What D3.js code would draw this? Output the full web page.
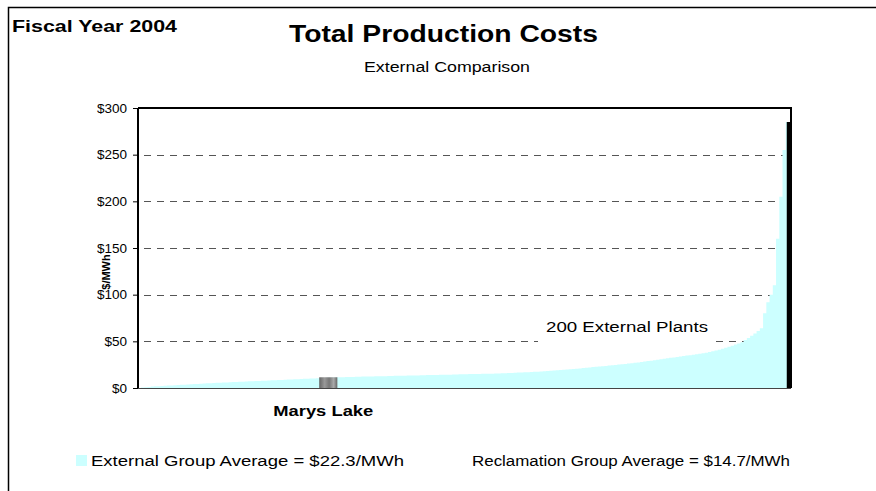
<!DOCTYPE html>
<html>
<head>
<meta charset="utf-8">
<script src="https://cdn.jsdelivr.net/npm/d3@7"></script>
<style>
  body { margin: 0; background: #fff; }
  svg { display: block; font-family: "Liberation Sans", Arial, sans-serif; }
</style>
</head>
<body>
<div id="chart"></div>
<script>
// production cost of the 200 external plants, $/MWh, sorted low to high
const externalCosts = [
  0.5, 0.9, 1.2, 1.5, 1.8, 2.0, 2.2, 2.4, 2.6, 2.8,
  3.0, 3.2, 3.4, 3.6, 3.8, 4.0, 4.2, 4.4, 4.6, 4.8,
  5.0, 5.2, 5.3, 5.5, 5.6, 5.8, 6.0, 6.1, 6.3, 6.4,
  6.6, 6.8, 6.9, 7.1, 7.2, 7.4, 7.6, 7.7, 7.9, 8.0,
  8.2, 8.4, 8.5, 8.7, 8.8, 9.0, 9.2, 9.3, 9.5, 9.6,
  9.8, 10.0, 10.1, 10.3, 10.4, 10.6, 10.8, 10.9, 11.1, 11.2,
  11.4, 11.5, 11.6, 11.7, 11.8, 11.9, 12.0, 12.1, 12.2, 12.2,
  12.3, 12.4, 12.5, 12.6, 12.6, 12.7, 12.8, 12.9, 13.0, 13.0,
  13.1, 13.2, 13.3, 13.4, 13.4, 13.5, 13.6, 13.7, 13.8, 13.8,
  13.9, 14.0, 14.1, 14.2, 14.2, 14.3, 14.4, 14.5, 14.6, 14.7,
  14.8, 14.9, 15.0, 15.0, 15.1, 15.2, 15.3, 15.4, 15.4, 15.5,
  15.6, 15.7, 15.9, 16.0, 16.2, 16.3, 16.5, 16.6, 16.8, 16.9,
  17.1, 17.3, 17.5, 17.8, 18.0, 18.2, 18.4, 18.7, 19.0, 19.2,
  19.5, 19.8, 20.1, 20.4, 20.7, 21.0, 21.3, 21.7, 22.0, 22.4,
  22.7, 23.0, 23.3, 23.6, 24.0, 24.3, 24.7, 25.1, 25.4, 25.8,
  26.2, 26.6, 27.0, 27.4, 27.9, 28.3, 28.8, 29.3, 29.8, 30.3,
  30.8, 31.3, 31.8, 32.3, 32.8, 33.3, 33.8, 34.2, 34.7, 35.1,
  35.6, 36.1, 36.7, 37.3, 37.9, 38.5, 39.3, 40.1, 41.0, 42.0,
  43.0, 44.1, 45.3, 46.5, 47.7, 49.0, 51.5, 53.5, 56.0, 58.5,
  61.0, 64.0, 80.0, 92.0, 100.0, 110.0, 160.0, 205.0, 255.0, 285.0
];

// the Reclamation plant shown against the external group
const reclamationPlants = ['Marys Lake'];
const reclamationRanks = [55];
const reclamationCosts = [11.5];

const yTicks = [0, 50, 100, 150, 200, 250, 300];
const legendLabels = [
  'External Group Average = $22.3/MWh',
  'Reclamation Group Average = $14.7/MWh'
];

const width = 876;
const height = 491;
const plot = { left: 138, right: 791, top: 108, bottom: 388 };

const svg = d3.select('#chart')
  .append('svg')
  .attr('width', width)
  .attr('height', height);

// the source picture is stretched sideways, so texts get a fixed run length
function fitText(sel, len) {
  return sel.attr('textLength', len).attr('lengthAdjust', 'spacingAndGlyphs');
}

// outer frame (only top and left edges fall inside the picture)
svg.append('path')
  .attr('d', 'M8.5,' + height + 'V7.5H' + width)
  .attr('fill', 'none')
  .attr('stroke', '#000')
  .attr('stroke-width', 1.5);

const x = d3.scaleLinear()
  .domain([0, externalCosts.length])
  .range([plot.left + 3, plot.right - 2]);

const y = d3.scaleLinear()
  .domain([0, 300])
  .range([plot.bottom, plot.top]);

// dashed grid lines
svg.append('g')
  .selectAll('line')
  .data(yTicks.filter(d => d > 0 && d < 300))
  .enter()
  .append('line')
  .attr('x1', plot.left + 6)
  .attr('x2', plot.right)
  .attr('y1', d => Math.round(y(d)) + 0.5)
  .attr('y2', d => Math.round(y(d)) + 0.5)
  .attr('stroke', '#555')
  .attr('stroke-width', 1.2)
  .attr('stroke-dasharray', '7,6');

// label sitting on a white patch over the $50 line
const noteG = svg.append('g');
noteG.append('rect')
  .attr('x', 538)
  .attr('y', 312)
  .attr('width', 172)
  .attr('height', 34)
  .attr('fill', '#fff');
fitText(noteG.append('text')
  .attr('x', 546)
  .attr('y', 332)
  .attr('font-size', 15.5)
  .text('200 External Plants'), 162);

// external plants as a stepped area
const area = d3.area()
  .x((d, i) => x(i))
  .y0(y(0))
  .y1(d => y(d))
  .curve(d3.curveStepAfter);

svg.append('path')
  .datum(externalCosts.concat([externalCosts[externalCosts.length - 1]]))
  .attr('d', area)
  .attr('fill', '#ccffff');

// highest plant drawn dark
const last = externalCosts.length - 1;
svg.append('rect')
  .attr('x', x(last) + 1)
  .attr('y', y(externalCosts[last]))
  .attr('width', plot.right - x(last) - 1)
  .attr('height', y(0) - y(externalCosts[last]))
  .attr('fill', '#000');

// Reclamation plant bar with a grey gradient
const grad = svg.append('defs')
  .append('linearGradient')
  .attr('id', 'recl')
  .attr('x1', '0%').attr('x2', '100%');
[['0%', '#666'], ['30%', '#999'], ['55%', '#777'], ['80%', '#aaa'], ['100%', '#666']]
  .forEach(s => grad.append('stop').attr('offset', s[0]).attr('stop-color', s[1]));

const barUnits = 5.6;
svg.append('g')
  .selectAll('rect')
  .data(reclamationPlants)
  .enter()
  .append('rect')
  .attr('x', (d, i) => x(reclamationRanks[i]))
  .attr('y', (d, i) => y(reclamationCosts[i]))
  .attr('width', x(barUnits) - x(0))
  .attr('height', (d, i) => y(0) - y(reclamationCosts[i]))
  .attr('fill', 'url(#recl)');

svg.append('g')
  .selectAll('text')
  .data(reclamationPlants)
  .enter()
  .append('text')
  .attr('x', (d, i) => x(reclamationRanks[i] + barUnits / 2) - 55)
  .attr('y', 416)
  .attr('font-size', 15)
  .attr('font-weight', 'bold')
  .attr('textLength', 100)
  .attr('lengthAdjust', 'spacingAndGlyphs')
  .text(d => d);

// x baseline
svg.append('line')
  .attr('x1', plot.left)
  .attr('x2', plot.right)
  .attr('y1', plot.bottom + 0.5)
  .attr('y2', plot.bottom + 0.5)
  .attr('stroke', '#444');

// top and right frame of the plot
svg.append('path')
  .attr('d', 'M' + plot.left + ',' + plot.top + 'H' + plot.right + 'V' + plot.bottom)
  .attr('fill', 'none')
  .attr('stroke', '#000')
  .attr('stroke-width', 2);

// y axis
const yAxis = d3.axisLeft(y)
  .tickValues(yTicks)
  .tickSize(5)
  .tickPadding(6)
  .tickFormat(d => '$' + d);

const yG = svg.append('g')
  .attr('transform', 'translate(' + plot.left + ',0)')
  .call(yAxis);
yG.select('.domain')
  .attr('stroke', '#000')
  .attr('stroke-width', 2)
  .attr('d', 'M0,' + plot.top + 'V' + plot.bottom);
yG.selectAll('.tick line').attr('stroke', '#000');
yG.selectAll('.tick text')
  .attr('font-size', 13.5)
  .attr('font-family', '"Liberation Sans", Arial, sans-serif')
  .attr('fill', '#000');

svg.append('text')
  .attr('transform', 'translate(110,272) rotate(-90)')
  .attr('text-anchor', 'middle')
  .attr('font-size', 11)
  .attr('font-weight', 'bold')
  .text('$/MWh');

// titles
fitText(svg.append('text')
  .attr('x', 12)
  .attr('y', 32)
  .attr('font-size', 17)
  .attr('font-weight', 'bold')
  .text('Fiscal Year 2004'), 165);

fitText(svg.append('text')
  .attr('x', 289)
  .attr('y', 42)
  .attr('font-size', 23)
  .attr('font-weight', 'bold')
  .text('Total Production Costs'), 309);

fitText(svg.append('text')
  .attr('x', 364)
  .attr('y', 72)
  .attr('font-size', 15.5)
  .text('External Comparison'), 166);

// legend
svg.append('rect')
  .attr('x', 76)
  .attr('y', 455)
  .attr('width', 11)
  .attr('height', 11)
  .attr('fill', '#ccffff');

const legendX = [91, 472];
const legendW = [313, 318];
svg.append('g')
  .selectAll('text')
  .data(legendLabels)
  .enter()
  .append('text')
  .attr('x', (d, i) => legendX[i])
  .attr('y', 466)
  .attr('font-size', 15.5)
  .attr('textLength', (d, i) => legendW[i])
  .attr('lengthAdjust', 'spacingAndGlyphs')
  .text(d => d);
</script>
</body>
</html>
